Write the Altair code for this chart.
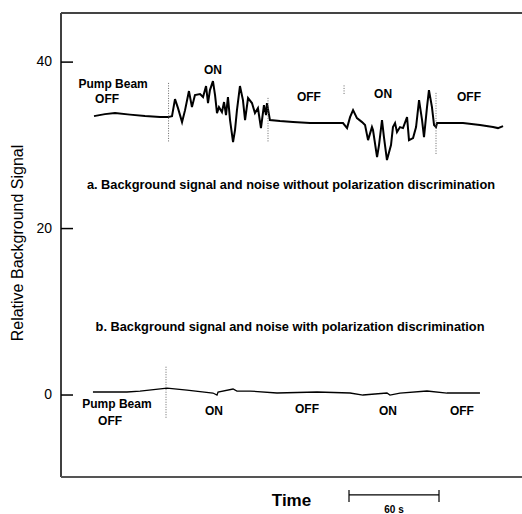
import altair as alt
import pandas as pd

# ---- data (time in s, relative signal) ----
upper_t = [22, 29.3, 36, 46, 56, 66, 71.3, 74, 76, 78, 80.7, 82.7, 85.3, 87.3, 89.3, 92.7, 94.7, 96.7,
           98, 99.3, 101.3, 102.7, 104, 105.3, 107.3, 108.7, 110, 111.3, 112.7, 114.7, 116, 117.3,
           119.3, 121.3, 122.7, 124.7, 127.3, 129.3, 131.3, 133.3, 135.3, 136.7, 137.3, 139.3,
           146, 154.7, 166, 177.3, 188, 190.7, 192.7, 194.7, 197.3, 200.7, 202.7, 204.7, 207.3,
           208, 210.7, 212, 214, 215.3, 217.3, 220, 221.3, 222.7, 224, 226, 228, 230.7, 232,
           234.7, 236.7, 238.7, 240.7, 242, 244, 245.3, 247.3, 248.7, 250, 250.7, 257.3, 268,
           279.3, 288, 291.3, 294.7]
upper_y = [33.51, 33.75, 33.87, 33.69, 33.51, 33.39, 33.39, 33.51, 35.56, 34.47, 32.79, 34.23, 36.52,
           34.59, 36.04, 36.16, 35.80, 37.12, 35.08, 36.64, 37.72, 36.04, 33.87, 34.59, 33.99,
           35.20, 33.63, 35.80, 33.03, 30.39, 31.83, 34.23, 37.12, 35.44, 33.03, 35.68, 35.08,
           33.87, 34.47, 32.07, 34.83, 33.63, 35.08, 33.03, 32.91, 32.79, 32.67, 32.67, 32.67,
           32.07, 33.39, 34.23, 33.27, 32.79, 32.43, 30.63, 32.19, 31.83, 28.59, 30.03, 33.03,
           30.99, 28.23, 30.03, 32.19, 32.67, 31.59, 32.19, 32.07, 33.39, 30.63, 30.87, 32.19,
           35.44, 33.03, 30.99, 34.59, 36.64, 34.59, 32.43, 32.19, 32.67, 32.67, 32.67, 32.43,
           32.19, 32.07, 32.31]

lower_t = [21.3, 44, 52.7, 70.7, 84, 101.3, 104, 104.7, 114.7, 117.3, 126, 144, 170.7, 192.7,
           201.3, 217.3, 219.3, 226, 244, 257.3, 279.3]
lower_y = [0.36, 0.36, 0.48, 0.84, 0.60, 0.24, 0.0, 0.36, 0.72, 0.48, 0.48, 0.24, 0.36, 0.24,
           0.0, 0.24, 0.0, 0.24, 0.48, 0.24, 0.24]

# pump beam switching marks (dotted)
switch_t = [71.7, 138, 188.7, 250, 70]
switch_y1 = [37.5, 35.7, 37.2, 36.3, 3.4]
switch_y2 = [30.3, 30.3, 36.0, 28.8, -2.8]

# annotations
ann_text = ["Pump Beam", "OFF", "ON", "OFF", "ON", "OFF",
            "a. Background signal and noise without polarization discrimination",
            "b. Background signal and noise with polarization discrimination",
            "Pump Beam", "OFF", "ON", "OFF", "ON", "OFF"]
ann_t = [34.7, 30.7, 101.3, 165.3, 214.7, 272, 153.3, 152.7, 37.3, 32.7, 102, 164, 218, 267.3]
ann_y = [37.4, 35.6, 39.04, 35.8, 36.16, 35.8, 25.2, 8.17, -1.05, -3.15, -1.92, -1.68, -1.92, -1.92]
ann_size = [12, 12, 12, 12, 12, 12, 12.8, 12.8, 12, 12, 12, 12, 12, 12]

y_ticks = [0, 20, 40]
y_tick_labels = ["0", "20", "40"]
x_domain = [0, 313.33]
y_domain = [-9.85, 45.9]
y_title = "Relative Background Signal"
x_title = "Time"

# scale bar (60 s)
bar_t = [192, 252]
bar_y = -12.0
bar_label = "60 s"

FONT = "Liberation Sans"
W, H = 470, 464          # plot runs past the right edge of the page (no right frame)

xs = alt.Scale(domain=x_domain, nice=False, zero=False)
ys = alt.Scale(domain=y_domain, nice=False, zero=False)


def X(field):
    return alt.X(field, scale=xs, axis=None)


def Y(field):
    return alt.Y(field, scale=ys, axis=None)


one = pd.DataFrame({"k": [0]})
upper_df = pd.DataFrame({"t": upper_t, "y": upper_y})
lower_df = pd.DataFrame({"t": lower_t, "y": lower_y})
sw_df = pd.DataFrame({"t": switch_t, "y1": switch_y1, "y2": switch_y2})
ann_df = pd.DataFrame({"label": ann_text, "t": ann_t, "y": ann_y, "size": ann_size})
tick_df = pd.DataFrame({"y": y_ticks, "label": y_tick_labels})

upper = alt.Chart(upper_df).mark_line(color="black", strokeWidth=2).encode(x=X("t:Q"), y=Y("y:Q"))
lower = alt.Chart(lower_df).mark_line(color="black", strokeWidth=1.3).encode(x=X("t:Q"), y=Y("y:Q"))

switches = alt.Chart(sw_df).mark_rule(color="#666", strokeWidth=1, strokeDash=[1, 1.5]).encode(
    x=X("t:Q"), y=Y("y1:Q"), y2="y2:Q",
)

# frame: left axis line, bottom axis line, top line
left_line = alt.Chart(one).mark_rule(color="black", strokeWidth=1.5).encode(
    x=alt.value(0), y=alt.value(0), y2=alt.value(H))
bottom_line = alt.Chart(one).mark_rule(color="#555", strokeWidth=2).encode(
    x=alt.value(0), x2=alt.value(W), y=alt.value(H))
top_line = alt.Chart(one).mark_rule(color="#444", strokeWidth=2).encode(
    x=alt.value(0), x2=alt.value(W), y=alt.value(0))

# inward y ticks and labels
ticks = alt.Chart(tick_df).mark_rule(color="black", strokeWidth=1.5).encode(
    y=Y("y:Q"), x=alt.value(0), x2=alt.value(12),
)
tick_labels = alt.Chart(tick_df).mark_text(font=FONT, fontSize=14, color="black",
                                           align="right", baseline="middle").encode(
    y=Y("y:Q"), x=alt.value(-9), text="label:N",
)

y_title_mark = alt.Chart(pd.DataFrame({"label": [y_title]})).mark_text(
    font=FONT, fontSize=16, color="black", angle=270, align="center", baseline="middle"
).encode(x=alt.value(-43), y=alt.value(H / 2 - 2), text="label:N")

x_title_mark = alt.Chart(pd.DataFrame({"label": [x_title]})).mark_text(
    font=FONT, fontSize=17, fontWeight="bold", color="black", align="center", baseline="middle"
).encode(x=alt.value(230.5), y=alt.value(H + 24), text="label:N")

texts = alt.Chart(ann_df).mark_text(font=FONT, fontWeight="bold", color="black",
                                    align="center", baseline="middle").encode(
    x=X("t:Q"), y=Y("y:Q"),
    text="label:N",
    size=alt.Size("size:Q", scale=None, legend=None),
)

bar_df = pd.DataFrame({"t1": [bar_t[0]], "t2": [bar_t[1]], "y": [bar_y]})
bar = alt.Chart(bar_df).mark_rule(color="black", strokeWidth=1.2).encode(
    x=X("t1:Q"), x2="t2:Q", y=Y("y:Q"),
)
bar_ends_df = pd.DataFrame({"t": bar_t, "y1": [bar_y + 0.6] * 2, "y2": [bar_y - 0.85] * 2})
bar_ends = alt.Chart(bar_ends_df).mark_rule(color="black", strokeWidth=1.2).encode(
    x=X("t:Q"), y=Y("y1:Q"), y2="y2:Q",
)
bar_text = alt.Chart(pd.DataFrame({"t": [sum(bar_t) / 2], "y": [bar_y - 1.25], "label": [bar_label]})).mark_text(
    font=FONT, fontWeight="bold", fontSize=10, baseline="top", align="center", color="black"
).encode(x=X("t:Q"), y=Y("y:Q"), text="label:N")

chart = alt.layer(upper, lower, switches, left_line, bottom_line, top_line, ticks, tick_labels,
                  y_title_mark, x_title_mark, texts, bar, bar_ends, bar_text).properties(
    width=W, height=H,
    autosize=alt.AutoSizeParams(type="none"),
    padding={"left": 61, "top": 13, "right": -9, "bottom": 37},
    background="white",
).configure_view(stroke=None)

chart.save("out.html", embed_options={"renderer": "svg", "actions": False})
